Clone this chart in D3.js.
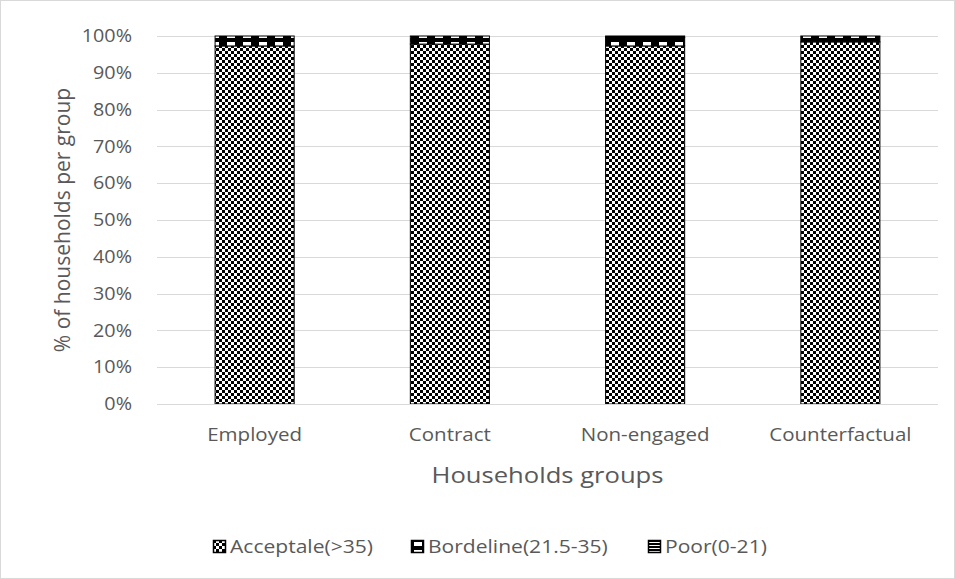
<!DOCTYPE html>
<html>
<head>
<meta charset="utf-8">
<script src="https://cdn.jsdelivr.net/npm/d3@7/dist/d3.min.js"></script>
<style>
  html, body { margin: 0; padding: 0; background: #fff; }
  svg { display: block; }
  text { font-family: "Open Sans", "Noto Sans", sans-serif; fill: #595959; }
</style>
</head>
<body>
<svg id="chart" width="955" height="579"></svg>
<script>
// Household groups and the share of households in each food-consumption class (%)
const groups = ["Employed", "Contract", "Non-engaged", "Counterfactual"];
const acceptable = [97.3, 97.8, 97.3, 98.4];
const borderline = [2.7, 2.2, 2.3, 1.6];
const poor = [0.0, 0.0, 0.4, 0.0];
const seriesNames = ["Acceptale(>35)", "Bordeline(21.5-35)", "Poor(0-21)"];
const yTicks = [0, 10, 20, 30, 40, 50, 60, 70, 80, 90, 100];

const svg = d3.select("#chart");
const W = 955, H = 579;
const margin = { left: 157, right: 17, top: 36, bottom: 175 };
const SX = 1.22; // horizontal widening of the Calibri-like lettering

// chart frame
svg.append("rect")
  .attr("x", 0.5).attr("y", 0.5)
  .attr("width", W - 1).attr("height", H - 1)
  .attr("fill", "#fff").attr("stroke", "#d9d9d9");

// fill patterns for the three classes
const defs = svg.append("defs");
const pAcc = defs.append("pattern").attr("id", "pat-acc")
  .attr("patternUnits", "userSpaceOnUse").attr("width", 6).attr("height", 6);
pAcc.append("rect").attr("width", 6).attr("height", 6).attr("fill", "#fff");
pAcc.append("rect").attr("width", 3).attr("height", 3).attr("fill", "#000");
pAcc.append("rect").attr("x", 3).attr("y", 3).attr("width", 3).attr("height", 3).attr("fill", "#000");

const pBor = defs.append("pattern").attr("id", "pat-bor")
  .attr("patternUnits", "userSpaceOnUse").attr("width", 16).attr("height", 8);
pBor.append("rect").attr("width", 16).attr("height", 8).attr("fill", "#000");
pBor.append("rect").attr("x", 3).attr("y", 2).attr("width", 8).attr("height", 4).attr("fill", "#fff");

const pPoor = defs.append("pattern").attr("id", "pat-poor")
  .attr("patternUnits", "userSpaceOnUse").attr("width", 4).attr("height", 3);
pPoor.append("rect").attr("width", 4).attr("height", 3).attr("fill", "#fff");
pPoor.append("rect").attr("width", 4).attr("height", 2).attr("fill", "#000");

const fills = ["url(#pat-acc)", "url(#pat-bor)", "url(#pat-poor)"];

const x = d3.scaleBand()
  .domain(groups)
  .range([margin.left, W - margin.right])
  .paddingInner(0.595).paddingOuter(0.2975);

const y = d3.scaleLinear()
  .domain([0, 100])
  .range([H - margin.bottom, margin.top]);

// horizontal gridlines
svg.append("g").selectAll("line")
  .data(yTicks)
  .join("line")
  .attr("x1", margin.left).attr("x2", W - margin.right)
  .attr("y1", d => Math.round(y(d)) + 0.5).attr("y2", d => Math.round(y(d)) + 0.5)
  .attr("stroke", "#d9d9d9").attr("stroke-width", 1);

// y axis labels
const yAxis = d3.axisLeft(y).tickValues(yTicks).tickFormat(d => d + "%").tickSize(0).tickPadding(0);
const gy = svg.append("g")
  .attr("transform", `translate(132,0)`)
  .call(yAxis);
gy.select(".domain").remove();
gy.selectAll("text")
  .style("font-size", "17.5px").attr("fill", "#595959")
  .attr("transform", "scale(1.13,1)");

// stacked bars
const rows = groups.map((g, i) => ({ group: g, acc: acceptable[i], bor: borderline[i], poor: poor[i] }));
const stack = d3.stack().keys(["acc", "bor", "poor"]);
const layers = stack(rows);

svg.append("g").selectAll("g")
  .data(layers)
  .join("g")
  .attr("fill", (d, i) => fills[i])
  .selectAll("rect")
  .data(d => d.filter(s => s[1] - s[0] > 0))
  .join("rect")
  .attr("x", d => x(d.data.group))
  .attr("width", x.bandwidth())
  .attr("y", d => y(d[1]))
  .attr("height", d => y(d[0]) - y(d[1]))
  .attr("stroke", "#000").attr("stroke-width", 1);

// baseline
svg.append("line")
  .attr("x1", margin.left).attr("x2", W - margin.right)
  .attr("y1", Math.round(y(0)) + 0.5).attr("y2", Math.round(y(0)) + 0.5)
  .attr("stroke", "#d9d9d9");

// x axis labels
const xAxis = d3.axisBottom(x).tickSize(0).tickPadding(0);
const gx = svg.append("g")
  .attr("transform", `translate(0,${y(0) + 24})`)
  .call(xAxis);
gx.select(".domain").remove();
gx.selectAll("text")
  .style("font-size", "18px").attr("fill", "#595959").attr("dy", "0.71em")
  .attr("transform", `scale(${SX - 0.08},1)`);

// axis titles
svg.append("text")
  .attr("transform", `translate(${(margin.left + W - margin.right) / 2},483) scale(${SX},1)`)
  .attr("text-anchor", "middle")
  .style("font-size", "21px")
  .text("Households groups");

svg.append("text")
  .attr("transform", `translate(70,${(y(0) + y(100)) / 2}) rotate(-90)`)
  .attr("text-anchor", "middle")
  .style("font-size", "21px")
  .text("% of households per group");

// legend
const legendX = [213, 411, 648];
const lg = svg.append("g").selectAll("g")
  .data(seriesNames)
  .join("g")
  .attr("transform", (d, i) => `translate(${legendX[i]},540)`);
lg.append("rect")
  .attr("x", 0.5).attr("y", 0.5).attr("width", 12).attr("height", 12)
  .attr("fill", (d, i) => fills[i]).attr("stroke", "#000").attr("stroke-width", 1.5);
lg.append("text")
  .attr("transform", `translate(17,7) scale(${SX - 0.05},1)`)
  .attr("dy", "0.35em")
  .style("font-size", "18px")
  .text(d => d);
</script>
</body>
</html>
